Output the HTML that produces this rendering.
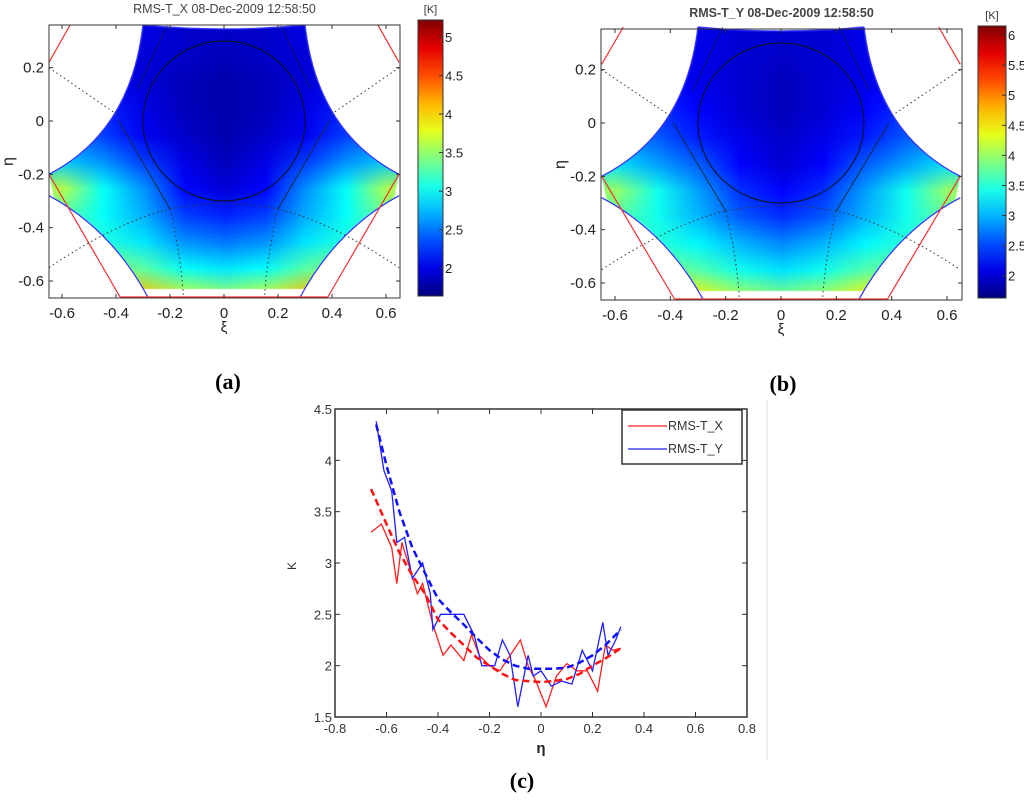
<!DOCTYPE html>
<html><head><meta charset="utf-8">
<style>
body{margin:0;background:#fff;}
#root{position:relative;width:1024px;height:805px;overflow:hidden;background:#fff;font-family:"Liberation Sans",sans-serif;}
canvas{position:absolute;left:0;top:0;}
svg{position:absolute;left:0;top:0;}
.lbl{font-family:"Liberation Serif",serif;font-weight:bold;font-size:22px;}
</style></head>
<body>
<div id="root">
<canvas id="heat" width="1024" height="805"></canvas>
<svg id="svg" width="1024" height="805"></svg>
</div>
<script>
// ---------- heatmap data (coarse grid) ----------
const heatXi = [-0.6,-0.45,-0.3,-0.15,0,0.15,0.3,0.45,0.6];
const heatEta = [0.35,0.25,0.15,0.05,-0.05,-0.15,-0.25,-0.35,-0.45,-0.55,-0.65];
const heatX = [
 [2.0,2.0,2.0,1.9,1.9,1.9,2.0,2.0,2.0],
 [2.0,2.0,1.95,1.9,1.85,1.9,1.95,2.0,2.0],
 [2.1,2.05,1.95,1.85,1.8,1.85,1.95,2.05,2.1],
 [2.3,2.2,2.0,1.85,1.8,1.85,2.0,2.2,2.3],
 [2.5,2.3,2.05,1.9,1.8,1.9,2.05,2.3,2.5],
 [2.8,2.6,2.3,2.0,1.85,2.0,2.3,2.6,2.8],
 [3.6,3.0,2.6,2.1,1.95,2.1,2.6,3.0,3.6],
 [3.3,3.0,2.7,2.3,2.2,2.3,2.7,3.0,3.4],
 [3.3,3.1,2.9,2.6,2.5,2.6,2.9,3.1,3.3],
 [3.6,3.5,3.3,3.0,2.9,3.0,3.3,3.5,3.6],
 [4.2,4.2,4.1,3.7,3.5,3.7,4.1,4.2,4.2]];
const heatY = [
 [2.2,2.2,2.1,2.0,2.0,2.0,2.1,2.2,2.2],
 [2.2,2.2,2.1,2.0,1.95,2.0,2.1,2.2,2.2],
 [2.3,2.2,2.1,2.0,1.9,2.0,2.1,2.2,2.3],
 [2.5,2.4,2.2,2.0,1.9,2.0,2.2,2.4,2.5],
 [2.8,2.6,2.3,2.1,1.95,2.1,2.3,2.6,2.8],
 [3.2,2.9,2.6,2.2,2.0,2.2,2.6,2.9,3.2],
 [4.0,3.4,2.9,2.4,2.2,2.4,2.9,3.4,4.0],
 [3.7,3.4,3.0,2.6,2.4,2.6,3.0,3.4,3.8],
 [3.7,3.5,3.3,3.0,2.8,3.0,3.3,3.5,3.7],
 [4.0,3.9,3.7,3.4,3.2,3.4,3.7,3.9,4.0],
 [4.6,4.6,4.5,4.1,3.9,4.1,4.5,4.6,4.6]];
const cbTicksA = [2,2.5,3,3.5,4,4.5,5];
const cbTicksB = [2,2.5,3,3.5,4,4.5,5,5.5,6];
const xiTicks = [-0.6,-0.4,-0.2,0,0.2,0.4,0.6];
const etaTicks = [-0.6,-0.4,-0.2,0,0.2];
// ---------- line chart data ----------
const redFitEta = [-0.66,-0.6,-0.55,-0.5,-0.45,-0.4,-0.35,-0.3,-0.25,-0.2,-0.15,-0.1,-0.05,0,0.05,0.1,0.15,0.2,0.25,0.31];
const redFitVal = [3.72,3.38,3.1,2.88,2.7,2.45,2.32,2.2,2.08,2.0,1.92,1.86,1.85,1.84,1.85,1.87,1.92,2.0,2.07,2.17];
const blueFitEta = [-0.64,-0.6,-0.55,-0.5,-0.45,-0.4,-0.35,-0.3,-0.25,-0.2,-0.15,-0.1,-0.05,0,0.05,0.1,0.15,0.2,0.25,0.31];
const blueFitVal = [4.35,3.95,3.5,3.15,2.9,2.65,2.52,2.4,2.27,2.15,2.06,2.0,1.97,1.97,1.97,1.98,2.03,2.1,2.2,2.35];
const redEta = [-0.66,-0.62,-0.58,-0.56,-0.54,-0.51,-0.48,-0.46,-0.44,-0.42,-0.38,-0.35,-0.3,-0.27,-0.24,-0.2,-0.16,-0.12,-0.08,-0.05,-0.02,0.02,0.06,0.1,0.14,0.18,0.22,0.25,0.28,0.31];
const redVal = [3.3,3.38,3.15,2.8,3.2,2.95,2.7,2.8,2.6,2.4,2.1,2.2,2.05,2.3,2.1,2.0,1.95,2.1,2.25,2.0,1.85,1.6,1.9,2.02,1.95,1.95,1.75,2.2,2.15,2.17];
const blueEta = [-0.64,-0.61,-0.58,-0.56,-0.53,-0.5,-0.46,-0.43,-0.42,-0.39,-0.35,-0.3,-0.26,-0.23,-0.18,-0.15,-0.12,-0.09,-0.05,-0.03,0,0.04,0.08,0.12,0.16,0.2,0.24,0.26,0.29,0.31];
const blueVal = [4.38,3.9,3.7,3.2,3.25,2.85,3.0,2.7,2.35,2.5,2.5,2.5,2.3,2.0,2.0,2.25,2.1,1.6,2.1,1.9,1.95,1.8,1.85,1.82,2.15,1.95,2.42,2.1,2.25,2.38];
const cxTicks = [-0.8,-0.6,-0.4,-0.2,0,0.2,0.4,0.6,0.8];
const cyTicks = [1.5,2,2.5,3,3.5,4,4.5];

const NS="http://www.w3.org/2000/svg";
const svg=document.getElementById('svg');
function el(tag,attrs,parent,text){const e=document.createElementNS(NS,tag);for(const k in attrs)e.setAttribute(k,attrs[k]);if(text!==undefined)e.textContent=text;(parent||svg).appendChild(e);return e;}
function jet(t){t=Math.max(0,Math.min(1,t));const c=v=>Math.round(255*Math.max(0,Math.min(1,v)));return [c(1.5-Math.abs(4*t-3)),c(1.5-Math.abs(4*t-2)),c(1.5-Math.abs(4*t-1))];}

const ctx=document.getElementById('heat').getContext('2d');

function panel(P){
  const sx=v=>P.x0+v*P.kx, sy=v=>P.y0-v*P.ky;
  const g=el('g',{},svg);
  
  
  const off=document.createElement('canvas');off.width=P.vals[0].length;off.height=P.vals.length;
  const oc=off.getContext('2d');const img=oc.createImageData(off.width,off.height);
  P.vals.forEach((row,i)=>row.forEach((v,j)=>{const c=jet((v-P.cmin)/(P.cmax-P.cmin));const k=4*(i*off.width+j);img.data[k]=c[0];img.data[k+1]=c[1];img.data[k+2]=c[2];img.data[k+3]=255;}));
  oc.putImageData(img,0,0);
  ctx.save();
  ctx.beginPath();
  const M=(x,y)=>ctx.moveTo(sx(x),sy(y)),L=(x,y)=>ctx.lineTo(sx(x),sy(y)),Q=(cx,cy,x,y)=>ctx.quadraticCurveTo(sx(cx),sy(cy),sx(x),sy(y));
  M(-0.3,0.36);Q(0,0.33,0.3,0.36);Q(0.345,-0.04,0.648,-0.2);L(0.63,-0.29);Q(0.43,-0.40,0.3,-0.63);L(-0.3,-0.63);Q(-0.43,-0.40,-0.63,-0.29);L(-0.648,-0.2);Q(-0.345,-0.04,-0.3,0.36);ctx.closePath();ctx.clip();
  ctx.imageSmoothingEnabled=true;
  const dx=P.kx*0.15, dy=P.ky*0.1;
  ctx.drawImage(off,sx(heatXi[0])-dx/2,sy(heatEta[0])-dy/2,dx*heatXi.length,dy*heatEta.length);
  ctx.restore();
  const pt=(x,y)=>sx(x).toFixed(1)+','+sy(y).toFixed(1);
  const lines=el('g',{fill:'none'},g);
  for(const s of [-1,1]){
    el('path',{d:`M${pt(s*0.3,0.36)} Q${pt(s*0.345,-0.04)} ${pt(s*0.648,-0.2)}`,stroke:'#3030ff','stroke-width':1.2},lines);
    el('path',{d:`M${pt(s*0.648,-0.28)} Q${pt(s*0.415,-0.408)} ${pt(s*0.28,-0.664)}`,stroke:'#3030ff','stroke-width':1.2},lines);
    el('path',{d:`M${pt(s*0.648,0.22)} L${pt(s*0.57,0.36)}`,stroke:'#f03030','stroke-width':1.2},lines);
    el('path',{d:`M${pt(s*0.648,-0.2)} L${pt(s*0.385,-0.66)}`,stroke:'#f03030','stroke-width':1.2},lines);
    el('path',{d:`M${pt(s*0.648,0.2)} L${pt(s*0.39,0.02)}`,stroke:'#333','stroke-width':1,'stroke-dasharray':'1.5,3'},lines);
    el('path',{d:`M${pt(s*0.39,0.0)} L${pt(s*0.2,-0.33)}`,stroke:'#222','stroke-width':0.8},lines);
    el('path',{d:`M${pt(s*0.21,0.36)} L${pt(s*0.32,0.12)}`,stroke:'#222','stroke-width':0.6},lines);
    el('path',{d:`M${pt(s*0.2,-0.33)} Q${pt(s*0.16,-0.5)} ${pt(s*0.15,-0.664)}`,stroke:'#333','stroke-width':1,'stroke-dasharray':'1.5,3'},lines);
  }
  el('path',{d:`M${pt(-0.3,0.36)} Q${pt(0,0.33)} ${pt(0.3,0.36)}`,stroke:'#3030ff','stroke-width':1.2},lines);
  el('path',{d:`M${pt(-0.385,-0.66)} L${pt(0.385,-0.66)}`,stroke:'#f03030','stroke-width':1.2},lines);
  el('path',{d:`M${pt(-0.648,-0.55)} Q${pt(-0.4,-0.38)} ${pt(-0.2,-0.33)} Q${pt(0,-0.29)} ${pt(0.2,-0.33)} Q${pt(0.4,-0.38)} ${pt(0.648,-0.55)}`,stroke:'#333','stroke-width':1,'stroke-dasharray':'1.5,3'},lines);
  el('ellipse',{cx:sx(0),cy:sy(0),rx:P.kx*0.3,ry:P.ky*0.3,stroke:'#111','stroke-width':1},lines);
  el('rect',{x:P.L,y:P.T,width:P.R-P.L,height:P.B-P.T,fill:'none',stroke:'#333','stroke-width':1},g);
  xiTicks.forEach(t=>{const x=sx(t);
    el('line',{x1:x,x2:x,y1:P.B,y2:P.B-4,stroke:'#333'},g);el('line',{x1:x,x2:x,y1:P.T,y2:P.T+4,stroke:'#333'},g);
    const tx=el('text',{x:x,y:P.B+20,'text-anchor':'middle','font-size':15,fill:'#222'},g,t===0?'0':String(t));
    });
  etaTicks.forEach(t=>{const y=sy(t);
    el('line',{x1:P.L,x2:P.L+4,y1:y,y2:y,stroke:'#333'},g);el('line',{x1:P.R,x2:P.R-4,y1:y,y2:y,stroke:'#333'},g);
    const tx=el('text',{x:P.L-5,y:y+5,'text-anchor':'end','font-size':15,fill:'#222'},g,t===0?'0':String(t));
    });
  const tt=el('text',{x:(P.L+P.R)/2,y:P.T-12,'text-anchor':'middle','font-size':12.5,fill:'#444','font-weight':P.bold?'bold':'normal'},g,P.title);
  
  const xl=el('text',{x:sx(0),y:P.B+34,'text-anchor':'middle','font-size':15,fill:'#222'},g,'ξ');
  
  const yl=el('text',{x:P.L-36,y:(P.T+P.B)/2,'text-anchor':'middle','font-size':16,fill:'#222',transform:`rotate(-90 ${P.L-36} ${(P.T+P.B)/2})`},g,'η');
  
  const gid='grad'+P.id;
  const defs=el('defs',{},g);const lg=el('linearGradient',{id:gid,x1:0,y1:1,x2:0,y2:0},defs);
  for(let i=0;i<=10;i++){const c=jet(i/10);el('stop',{offset:i/10,'stop-color':`rgb(${c})`},lg);}
  const cb=el('rect',{x:P.cbL,y:P.cbT,width:P.cbW,height:P.cbB-P.cbT,fill:`url(#${gid})`,stroke:'#333'},g);
  
  const cy=v=>P.cbB-(v-P.cmin)/(P.cmax-P.cmin)*(P.cbB-P.cbT);
  P.cbTicks.forEach(t=>{const y=cy(t);
    el('line',{x1:P.cbL+P.cbW-4,x2:P.cbL+P.cbW,y1:y,y2:y,stroke:'#333'},g);
    const tx=el('text',{x:P.cbL+P.cbW+2,y:y+5,'font-size':13,fill:'#222'},g,String(t));
    });
  const u=el('text',{x:P.cbL+P.cbW/2,y:P.cbT-7,'text-anchor':'middle','font-size':11,fill:'#333'},g,'[K]');
  
}

panel({id:'a',name:'panel-a-rms-tx-map',L:49,R:400,T:25,B:298,x0:224,y0:121,kx:270,ky:266.7,vals:heatX,cmin:1.64,cmax:5.22,
  cbL:418,cbW:25,cbT:20,cbB:296,cbTicks:cbTicksA,title:'RMS-T_X  08-Dec-2009 12:58:50',bold:false});
panel({id:'b',name:'panel-b-rms-ty-map',L:601,R:962,T:29,B:300,x0:781,y0:123,kx:276.7,ky:266.7,vals:heatY,cmin:1.63,cmax:6.15,
  cbL:978,cbW:28,cbT:26,cbB:298,cbTicks:cbTicksB,title:'RMS-T_Y  08-Dec-2009 12:58:50',bold:true});

(function(){
  const L=335,R=747,T=409,B=717;
  const sx=v=>L+(v+0.8)/1.6*(R-L), sy=v=>B-(v-1.5)/3*(B-T);
  const g=el('g',{},svg);
  
  
  el('rect',{x:L,y:T,width:R-L,height:B-T,fill:'#fff',stroke:'#333','stroke-width':1.5},g);
  cxTicks.forEach(t=>{const x=sx(t);
    el('line',{x1:x,x2:x,y1:B,y2:B-5,stroke:'#333'},g);el('line',{x1:x,x2:x,y1:T,y2:T+5,stroke:'#333'},g);
    const tx=el('text',{x:x,y:B+16,'text-anchor':'middle','font-size':13,fill:'#333'},g,t===0?'0':String(t));
    });
  cyTicks.forEach(t=>{const y=sy(t);
    el('line',{x1:L,x2:L+5,y1:y,y2:y,stroke:'#333'},g);el('line',{x1:R,x2:R-5,y1:y,y2:y,stroke:'#333'},g);
    const tx=el('text',{x:L-3,y:y+5,'text-anchor':'end','font-size':13,fill:'#333'},g,String(t));
    });
  const pts=(xs,ys)=>xs.map((x,i)=>sx(x).toFixed(1)+','+sy(ys[i]).toFixed(1)).join(' ');
  const s1=el('polyline',{points:pts(redEta,redVal),fill:'none',stroke:'#ff2020','stroke-width':1.3},g);
  
  const s2=el('polyline',{points:pts(blueEta,blueVal),fill:'none',stroke:'#2020ff','stroke-width':1.3},g);
  
  const s3=el('polyline',{points:pts(redFitEta,redFitVal),fill:'none',stroke:'#ff1010','stroke-width':2.5,'stroke-dasharray':'7,4'},g);
  
  const s4=el('polyline',{points:pts(blueFitEta,blueFitVal),fill:'none',stroke:'#1010ff','stroke-width':2.5,'stroke-dasharray':'7,4'},g);
  
  const lg=el('g',{},g);
  
  el('rect',{x:622,y:410,width:120,height:54,fill:'#fff',stroke:'#333','stroke-width':1.5},lg);
  el('line',{x1:628,x2:667,y1:426,y2:426,stroke:'#ff2020','stroke-width':1.3},lg);
  const l1=el('text',{x:668,y:430,'font-size':12.5,fill:'#333'},lg,'RMS-T_X');
  
  el('line',{x1:628,x2:667,y1:449,y2:449,stroke:'#2020ff','stroke-width':1.3},lg);
  const l2=el('text',{x:668,y:453,'font-size':12.5,fill:'#333'},lg,'RMS-T_Y');
  
  const xl=el('text',{x:sx(0),y:B+36,'text-anchor':'middle','font-size':15,'font-weight':'bold',fill:'#222'},g,'η');
  
  const yl=el('text',{x:296,y:566,'text-anchor':'middle','font-size':12,fill:'#333',transform:'rotate(-90 296 566)'},g,'K');
  
  el('line',{x1:767,x2:767,y1:400,y2:760,stroke:'#ddd','stroke-width':1},svg);
})();

[['(a)',228,389,'label-a'],['(b)',783,391,'label-b'],['(c)',522,788,'label-c']].forEach(a=>{
  const t=el('text',{x:a[1],y:a[2],'text-anchor':'middle',class:'lbl',fill:'#000'},svg,a[0]);
  
});
</script>
</body></html>
